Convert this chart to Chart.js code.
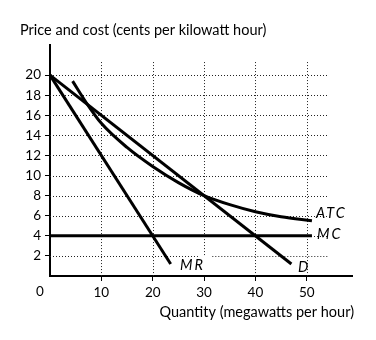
<!DOCTYPE html>
<html>
<head>
<meta charset="utf-8">
<script src="https://cdn.jsdelivr.net/npm/chart.js@4"></script>
<style>
  html, body { margin: 0; padding: 0; background: #fff; }
  #wrap { width: 376px; height: 340px; position: relative; }
</style>
</head>
<body>
<div id="wrap"><canvas id="chart"></canvas></div>
<script>
// ── Data ─────────────────────────────────
const xTicks = [10, 20, 30, 40, 50];
const yTicks = [2, 4, 6, 8, 10, 12, 14, 16, 18, 20];

const mrQ = [0, 23.5];
const mrP = [20, 1.2];

const demandQ = [0, 47];
const demandP = [20, 1.2];

const atcQ = [4.4, 7, 10, 15, 20, 25, 30, 35, 40, 45, 51];
const atcP = [19.4, 17.3, 15.2, 12.8, 10.9, 9.3, 8, 7.1, 6.4, 5.9, 5.5];

const mcQ = [0, 51];
const mcP = [4, 4];

const FONT = "Lato, 'Open Sans', sans-serif";

function pts(xs, ys) {
    return xs.map((x, i) => ({ x: x, y: ys[i] }));
}

function lineSet(label, xs, ys, smooth) {
    return {
        label: label, data: pts(xs, ys),
        borderColor: '#000', borderWidth: 3, pointRadius: 0,
        fill: false, tension: smooth ? 0.4 : 0,
        cubicInterpolationMode: smooth ? 'monotone' : 'default'
    };
}

// dotted grid, stops short of the axis ends (small gap near the MR label)
const dottedGrid = {
    id: 'dottedGrid',
    beforeDatasetsDraw(chart) {
        const { ctx, scales: { x, y } } = chart;
        const seg = (x1, y1, x2, y2) => {
            ctx.beginPath(); ctx.moveTo(x1, y1); ctx.lineTo(x2, y2); ctx.stroke();
        };
        ctx.save();
        ctx.strokeStyle = '#222';
        ctx.lineWidth = 1;
        ctx.setLineDash([1, 2]);
        yTicks.forEach(v => {
            const py = Math.round(y.getPixelForValue(v)) + 0.5;
            if (v === 2) {
                seg(x.getPixelForValue(0), py, x.getPixelForValue(28.8), py);
                seg(x.getPixelForValue(31.6), py, x.getPixelForValue(54), py);
            } else {
                seg(x.getPixelForValue(0), py, x.getPixelForValue(54), py);
            }
        });
        xTicks.forEach(v => {
            const px = Math.round(x.getPixelForValue(v)) + 0.5;
            if (v === 30) {
                seg(px, y.getPixelForValue(21.3), px, y.getPixelForValue(2));
            } else {
                seg(px, y.getPixelForValue(21.3), px, y.getPixelForValue(0));
            }
        });
        ctx.restore();
    }
};

// titles and curve labels
const labels = {
    id: 'labels',
    afterDraw(chart) {
        const { ctx, scales: { x, y } } = chart;
        ctx.save();
        ctx.fillStyle = '#000';
        ctx.textBaseline = 'middle';
        ctx.font = '14.5px ' + FONT;
        ctx.textAlign = 'left';
        ctx.fillText('Price and cost (cents per kilowatt hour)', 20, 30);
        ctx.textAlign = 'right';
        ctx.fillText('Quantity (megawatts per hour)', 354, 312);
        ctx.font = '13.5px ' + FONT;
        ctx.textAlign = 'center';
        ctx.fillText('0', 40, 292);

        ctx.font = 'italic 14.5px ' + FONT;
        ctx.textAlign = 'left';
        ctx.letterSpacing = '2px';
        ctx.fillText('ATC', 316, y.getPixelForValue(6.2));
        ctx.fillText('MC', 317, y.getPixelForValue(4.1));
        ctx.fillText('MR', 180, y.getPixelForValue(1.1));
        ctx.fillText('D', 298, y.getPixelForValue(0.9));
        ctx.restore();
    }
};

new Chart(document.getElementById('chart'), {
    type: 'line',
    data: {
        datasets: [
            lineSet('MR', mrQ, mrP, false),
            lineSet('D', demandQ, demandP, false),
            lineSet('ATC', atcQ, atcP, true),
            lineSet('MC', mcQ, mcP, false)
        ]
    },
    options: {
        responsive: true, maintainAspectRatio: false, animation: false,
        layout: { padding: { top: 45, right: 24, left: 0, bottom: 0 } },
        plugins: { legend: { display: false }, tooltip: { enabled: false } },
        scales: {
            x: {
                type: 'linear', min: 0, max: 58.8,
                afterFit: s => { s.height = 64; },
                afterBuildTicks: s => { s.ticks = xTicks.map(v => ({ value: v })); },
                grid: { drawOnChartArea: false, drawTicks: true, tickLength: 5, color: '#000' },
                border: { color: '#000', width: 2 },
                ticks: { color: '#000', font: { family: FONT, size: 13.5 }, padding: 4, maxRotation: 0 }
            },
            y: {
                type: 'linear', min: 0, max: 23,
                afterFit: s => { s.width = 50; },
                afterBuildTicks: s => { s.ticks = yTicks.map(v => ({ value: v })); },
                grid: { drawOnChartArea: false, drawTicks: true, tickLength: 5, color: '#000' },
                border: { color: '#000', width: 2 },
                ticks: { color: '#000', font: { family: FONT, size: 13.5 }, padding: 4 }
            }
        }
    },
    plugins: [dottedGrid, labels]
});
</script>
</body>
</html>
